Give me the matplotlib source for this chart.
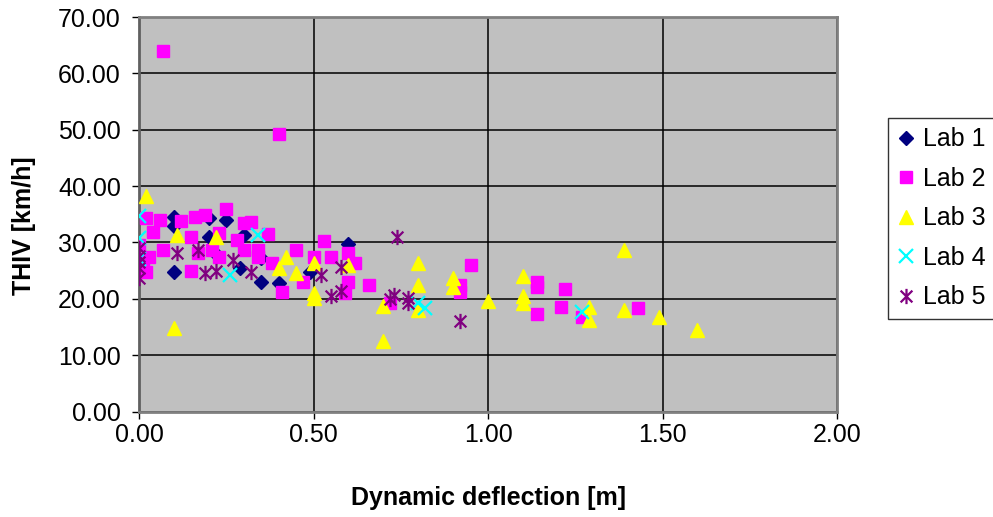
import matplotlib
matplotlib.use("Agg")
import matplotlib.pyplot as plt
from matplotlib.path import Path
from matplotlib.markers import MarkerStyle

plt.rcParams["font.family"] = ["Liberation Sans", "DejaVu Sans"]

# Dynamic deflection [m] and THIV [km/h] per lab
lab1_x = [0.00, 0.10, 0.10, 0.10, 0.20, 0.20, 0.25, 0.30, 0.35, 0.35, 0.40, 0.29, 0.49, 0.60, 0.22]
lab1_y = [26.5, 34.5, 33.0, 24.8, 34.4, 31.0, 34.0, 31.3, 27.3, 23.0, 22.8, 25.5, 24.7, 29.7, 28.0]

lab2_x = [0.07, 0.40, 0.02, 0.06, 0.04, 0.12, 0.16, 0.19, 0.25, 0.30, 0.32, 0.37,
          0.07, 0.02, 0.15, 0.23, 0.28, 0.30, 0.34, 0.34, 0.15, 0.21, 0.17, 0.23,
          0.38, 0.45, 0.53, 0.41, 0.50, 0.55, 0.60, 0.62, 0.60, 0.66, 0.59, 0.47,
          0.95, 0.92, 0.92, 1.14, 1.14, 1.14, 0.72, 1.22, 1.21, 1.27, 1.43,
          0.00, 0.01, 0.03]
lab2_y = [64.0, 49.3, 34.3, 34.0, 31.9, 33.8, 34.6, 34.9, 36.0, 33.5, 33.7, 31.5,
          28.7, 24.8, 31.0, 31.7, 30.5, 28.7, 28.7, 27.5, 25.0, 28.7, 28.1, 27.5,
          26.3, 28.7, 30.3, 21.2, 27.5, 27.5, 28.1, 26.3, 23.0, 22.5, 21.0, 23.0,
          26.0, 22.5, 21.3, 23.0, 22.1, 17.3, 19.3, 21.8, 18.6, 16.8, 18.4,
          29.5, 27.0, 27.5]

lab3_x = [0.02, 0.10, 0.11, 0.22, 0.40, 0.42, 0.45, 0.50, 0.50, 0.50, 0.60, 0.70, 0.70, 0.80,
          0.80, 0.80, 0.90, 0.90, 1.00, 1.10, 1.10, 1.10, 1.29, 1.29, 1.39, 1.39, 1.49, 1.60]
lab3_y = [38.3, 14.8, 31.4, 31.0, 25.5, 27.5, 24.6, 26.3, 21.0, 20.2, 26.0, 12.6, 18.8, 26.3,
          22.5, 18.0, 23.7, 22.1, 19.7, 24.0, 20.5, 19.3, 18.5, 16.3, 28.7, 18.0, 16.8, 14.5]

lab4_x = [0.00, 0.00, 0.00, 0.26, 0.34, 0.80, 0.82, 1.27]
lab4_y = [34.7, 30.8, 27.0, 24.3, 31.3, 19.3, 18.4, 17.7]

lab5_x = [0.00, 0.00, 0.00, 0.00, 0.00, 0.11, 0.17, 0.19, 0.22, 0.27, 0.32, 0.52, 0.58,
          0.55, 0.58, 0.74, 0.72, 0.73, 0.77, 0.77, 0.92]
lab5_y = [29.0, 27.6, 26.5, 25.5, 23.7, 28.2, 28.7, 24.6, 25.0, 26.9, 24.7, 24.3, 25.7,
          20.5, 21.4, 31.0, 20.0, 20.6, 19.3, 20.2, 16.0]

x_ticks = [0.0, 0.5, 1.0, 1.5, 2.0]
y_ticks = [0, 10, 20, 30, 40, 50, 60, 70]

# Star marker: an x crossed by a vertical bar
star_path = Path(
    [(-1, -1), (1, 1), (-1, 1), (1, -1), (0, -1.3), (0, 1.3)],
    [Path.MOVETO, Path.LINETO, Path.MOVETO, Path.LINETO, Path.MOVETO, Path.LINETO],
)
star_marker = MarkerStyle(star_path)

fig = plt.figure(figsize=(9.93, 5.17), dpi=100)
ax = fig.add_axes([0.140, 0.204, 0.703, 0.763])
ax.set_facecolor("#C0C0C0")

ax.plot(lab1_x, lab1_y, linestyle="none", marker="D", markersize=7.5,
        color="#000080", markeredgecolor="#000080", label="Lab 1", zorder=3)
ax.plot(lab2_x, lab2_y, linestyle="none", marker="s", markersize=9,
        color="#FF00FF", markeredgecolor="#FF00FF", label="Lab 2", zorder=4)
ax.plot(lab3_x, lab3_y, linestyle="none", marker="^", markersize=10,
        color="#FFFF00", markeredgecolor="#FFFF00", label="Lab 3", zorder=5)
ax.plot(lab4_x, lab4_y, linestyle="none", marker="x", markersize=9.5,
        markeredgewidth=1.6, color="#00FFFF", label="Lab 4", zorder=6)
ax.plot(lab5_x, lab5_y, linestyle="none", marker=star_marker, markersize=11,
        markeredgewidth=1.6, markerfacecolor="none", markeredgecolor="#800080",
        color="#800080", label="Lab 5", zorder=7)

ax.set_xlim(0, 2)
ax.set_ylim(0, 70)
ax.set_xticks(x_ticks)
ax.set_yticks(y_ticks)
ax.set_xticklabels([f"{v:.2f}" for v in x_ticks])
ax.set_yticklabels([f"{v:.2f}" for v in y_ticks])
ax.tick_params(axis="both", labelsize=18, direction="out", length=5,
               width=1, color="black")
ax.tick_params(axis="x", pad=3)
ax.tick_params(axis="y", pad=8)
ax.grid(True, color="black", linewidth=1.1)
ax.set_axisbelow(True)
for side in ["top", "right", "bottom"]:
    ax.spines[side].set_color("#808080")
    ax.spines[side].set_linewidth(2)
ax.spines["left"].set_color("#606060")
ax.spines["left"].set_linewidth(2)

ax.set_xlabel("Dynamic deflection [m]", fontsize=18, fontweight="bold")
ax.set_ylabel("THIV [km/h]", fontsize=18, fontweight="bold")
ax.xaxis.set_label_coords(0.5, -0.22)
ax.yaxis.set_label_coords(-0.165, 0.47)
ax.xaxis.label.set_verticalalignment("center")
ax.yaxis.label.set_verticalalignment("center")

leg = fig.legend(loc="upper left", bbox_to_anchor=(0.894, 0.772), fontsize=18,
                 frameon=True, fancybox=False, edgecolor="black",
                 handlelength=0.7, handletextpad=0.35, labelspacing=0.62,
                 borderpad=0.38, borderaxespad=0)
leg.get_frame().set_linewidth(1.0)

fig.savefig("out.png", dpi=100)
